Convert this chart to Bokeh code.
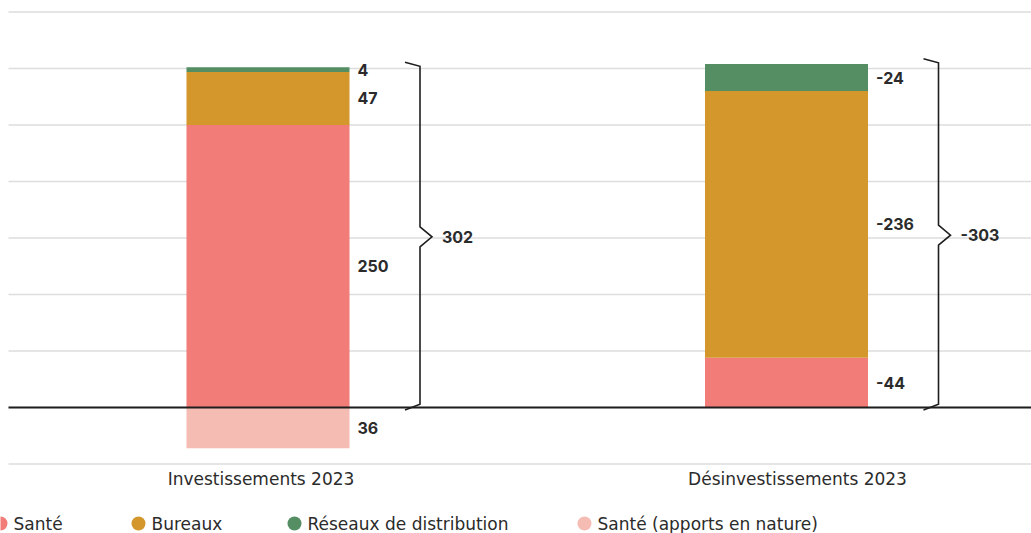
from bokeh.plotting import figure
from bokeh.models import Range1d
from bokeh.core.properties import value
from bokeh.embed import file_html
from bokeh.resources import INLINE

# ---- data -------------------------------------------------------------
categories = ["Investissements 2023", "Désinvestissements 2023"]
series_names = ["Santé", "Bureaux", "Réseaux de distribution", "Santé (apports en nature)"]
series_colors = ["#f27d78", "#d3972b", "#558e63", "#f5bcb4"]

sante = [250, 44]
bureaux = [47, 236]
reseaux = [4, 24]
apports = [36, 0]          # in-kind contributions, shown below the zero line
label_sign = [1, -1]       # divestments are reported as negative amounts
totals = [302, -303]
grid_values = [-50, 0, 50, 100, 150, 200, 250, 300, 350]

# ---- layout helpers -----------------------------------------------------
W, H = 1031, 533
PX = 1 / 518.5                      # x data units per screen pixel
X0 = -267.5 * PX                    # left edge of the frame
X1 = (W - 267.5) * PX
YPX = 1 / 1.13                      # y data units per screen pixel
Y_TOP = 407 * YPX
Y_BOT = -(H - 407) * YPX

FONT = "Inter"
FONT_REG = "DejaVu Sans"
TEXT = "#2b2b2b"

p = figure(width=W, height=H, output_backend="svg", toolbar_location=None,
           x_range=Range1d(X0, X1), y_range=Range1d(Y_BOT, Y_TOP),
           min_border=0, min_border_left=0, min_border_right=0,
           min_border_top=0, min_border_bottom=0,
           x_axis_type=None, y_axis_type=None)
p.outline_line_color = None
p.xgrid.visible = False
p.ygrid.visible = False
p.background_fill_color = "white"

# horizontal guide lines
gx0 = X0 + 8 * PX
p.segment(x0=[gx0] * len(grid_values), x1=[X1] * len(grid_values),
          y0=grid_values, y1=grid_values, line_color="#dddddd", line_width=1.3)

# ---- stacked bars -------------------------------------------------------
xs = list(range(len(categories)))
bar_w = 163 * PX
stack = [sante, bureaux, reseaux]
base = [0] * len(xs)
label_x, label_y, label_t = [], [], []
for vals, col in zip(stack, series_colors[:3]):
    tops = [b + v for b, v in zip(base, vals)]
    p.vbar(x=xs, width=bar_w, bottom=base, top=tops, fill_color=col, line_color=None)
    for i, (b, t, v) in enumerate(zip(base, tops, vals)):
        label_x.append(xs[i] + bar_w / 2)
        label_y.append((b + t) / 2)
        label_t.append(str(label_sign[i] * v))
    base = tops
stack_top = base

# in-kind contributions below zero
p.vbar(x=xs, width=bar_w, bottom=[0] * len(xs), top=[-v for v in apports],
       fill_color=series_colors[3], line_color=None)
for i, v in enumerate(apports):
    if v:
        label_x.append(xs[i] + bar_w / 2)
        label_y.append(-v / 2)
        label_t.append(str(v))

# zero line
p.segment(x0=[gx0], x1=[X1], y0=[0], y1=[0], line_color="#1e1e1e", line_width=2)

p.text(x=label_x, y=label_y, text=label_t, x_offset=8, text_align="left",
       text_baseline="middle", text_font=value(FONT), text_font_style="bold",
       text_font_size="16px", text_color=TEXT)

# ---- braces with totals ------------------------------------------------
for i, tot in enumerate(totals):
    cx = xs[i]
    xa = cx + 137 * PX       # tip ends
    xb = cx + 152 * PX       # spine
    xc = cx + 164 * PX       # middle point
    top = stack_top[i] + 1
    mid = top / 2
    tip = 4 * YPX
    notch = 10 * YPX
    bx = [xa, xb, xb, xc, xb, xb, xa]
    by = [top + tip, top, mid + notch, mid, mid - notch, tip * 0.8, -tip * 0.6]
    p.line(x=bx, y=by, line_color="#1e1e1e", line_width=1.6, line_join="miter")
    p.text(x=[xc], y=[mid], text=[str(tot)], x_offset=10, text_align="left",
           text_baseline="middle", text_font=value(FONT), text_font_style="bold",
           text_font_size="16px", text_color=TEXT)

# ---- category labels ---------------------------------------------------
cat_y = -(478 - 407) * YPX
p.text(x=[xs[0]], y=[cat_y], text=[categories[0]], x_offset=-7, text_align="center",
       text_baseline="middle", text_font=value(FONT_REG), text_font_size="17px", text_color=TEXT)
p.text(x=[xs[1]], y=[cat_y], text=[categories[1]], x_offset=11, text_align="center",
       text_baseline="middle", text_font=value(FONT_REG), text_font_size="17px", text_color=TEXT)

# ---- legend row --------------------------------------------------------
leg_y = -(523 - 407) * YPX
leg_px = [0, 138, 294, 584]
leg_x = [X0 + px * PX for px in leg_px]
p.scatter(x=leg_x, y=[leg_y] * 4, size=14, fill_color=series_colors, line_color=None)
p.text(x=leg_x, y=[leg_y] * 4, text=series_names, x_offset=13, text_align="left",
       text_baseline="middle", text_font=value(FONT_REG), text_font_size="17px", text_color=TEXT)

open("out.html", "w").write(file_html(p, INLINE))
